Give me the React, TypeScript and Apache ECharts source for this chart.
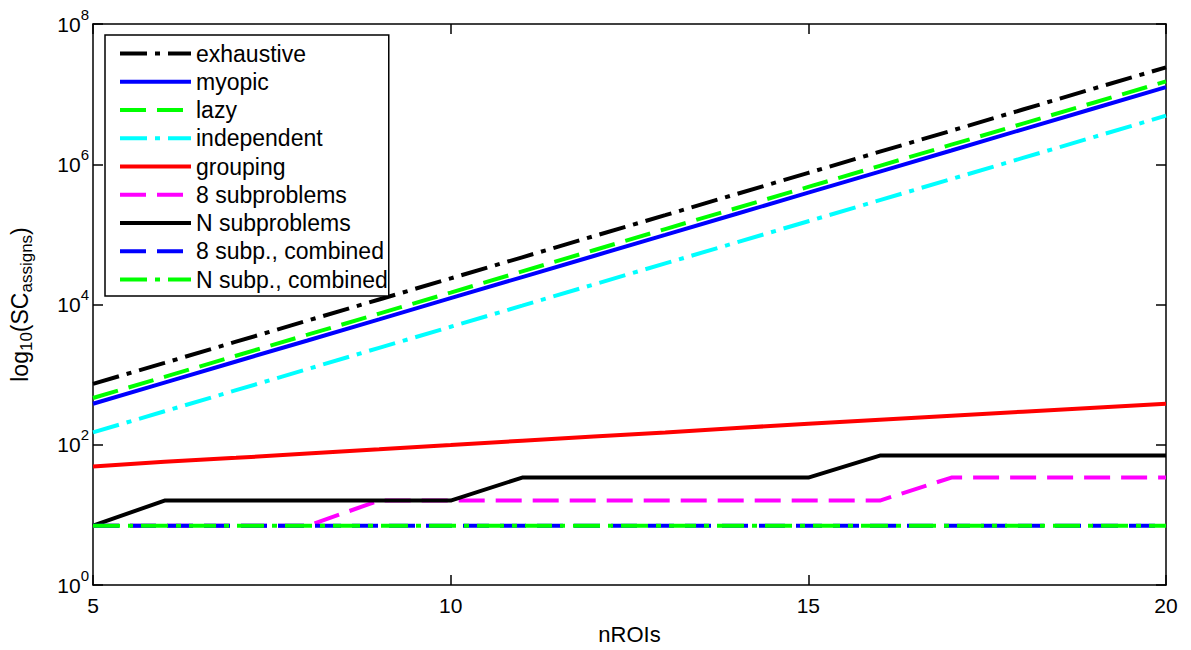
import { useEffect, useRef } from "react";
import * as echarts from "echarts";

// Number of regions of interest on the horizontal axis
const nROIs = [5, 6, 7, 8, 9, 10, 11, 12, 13, 14, 15, 16, 17, 18, 19, 20];

// Search-space size (number of assignments) per strategy
const exhaustive = [740, 1470, 2950, 5900, 11800, 23600, 47100, 94200, 188000, 377000, 754000, 1510000, 3010000, 6030000, 12100000, 24100000];
const myopic = [384, 768, 1540, 3070, 6140, 12300, 24600, 49200, 98300, 197000, 393000, 786000, 1570000, 3150000, 6290000, 12600000];
const lazy = [464, 928, 1860, 3710, 7420, 14800, 29700, 59400, 119000, 238000, 475000, 950000, 1900000, 3800000, 7600000, 15200000];
const independent = [150, 300, 600, 1200, 2410, 4810, 9630, 19300, 38500, 77000, 154000, 308000, 616000, 1230000, 2460000, 4930000];
const grouping = [49, 57, 65, 75, 86, 99, 114, 131, 150, 173, 200, 228, 260, 296, 338, 385];
const eightSubproblems = [7, 7, 7, 7, 16, 16, 16, 16, 16, 16, 16, 16, 34, 34, 34, 34];
const nSubproblems = [7, 16, 16, 16, 16, 16, 34, 34, 34, 34, 34, 70, 70, 70, 70, 70];
const eightSubCombined = [7, 7, 7, 7, 7, 7, 7, 7, 7, 7, 7, 7, 7, 7, 7, 7];
const nSubCombined = [7, 7, 7, 7, 7, 7, 7, 7, 7, 7, 7, 7, 7, 7, 7, 7];

// Labelled powers of ten on the vertical axis
const yTickValues = [1, 1e2, 1e4, 1e6, 1e8];

const FONT = '"Liberation Sans", Arial, Helvetica, sans-serif';
const DASHED = [26, 11];
const DASH_DOT = [27, 8, 5, 8];

const lines = [
  { name: "exhaustive", values: exhaustive, color: "#000000", dash: DASH_DOT },
  { name: "myopic", values: myopic, color: "#0000ff", dash: null },
  { name: "lazy", values: lazy, color: "#00ff00", dash: DASHED },
  { name: "independent", values: independent, color: "#00ffff", dash: DASH_DOT },
  { name: "grouping", values: grouping, color: "#ff0000", dash: null },
  { name: "8 subproblems", values: eightSubproblems, color: "#ff00ff", dash: DASHED },
  { name: "N subproblems", values: nSubproblems, color: "#000000", dash: null },
  { name: "8 subp., combined", values: eightSubCombined, color: "#0000ff", dash: DASHED },
  { name: "N subp., combined", values: nSubCombined, color: "#00ff00", dash: DASH_DOT },
];

export default function App() {
  const ref = useRef<HTMLDivElement>(null);

  useEffect(() => {
    const chart = echarts.init(ref.current!, null, { renderer: "svg" });

    const axisLine = { show: true, onZero: false, lineStyle: { color: "#000", width: 1.5 } };
    const axisTick = { show: true, inside: true, length: 10, lineStyle: { color: "#000", width: 1.5 } };

    chart.setOption({
      animation: false,
      backgroundColor: "#ffffff",
      textStyle: { fontFamily: FONT, color: "#000" },
      grid: { left: 93, top: 24, right: 25, bottom: 63, containLabel: false },
      legend: {
        orient: "vertical",
        left: 105,
        top: 35,
        padding: [7, 1, 5, 13],
        itemWidth: 71,
        itemHeight: 14,
        itemGap: 5.25,
        backgroundColor: "#ffffff",
        borderColor: "#000",
        borderWidth: 1.5,
        borderRadius: 0,
        selectedMode: false,
        textStyle: { fontSize: 23, color: "#000", fontFamily: FONT, lineHeight: 23 },
        itemStyle: { opacity: 0 },
        lineStyle: { width: "inherit" },
        data: lines.map((l) => l.name),
      },
      xAxis: [
        {
          type: "value",
          min: 5,
          max: 20,
          interval: 5,
          name: "nROIs",
          nameLocation: "middle",
          nameGap: 38,
          nameTextStyle: { fontSize: 22, color: "#000", fontFamily: FONT },
          axisLine,
          axisTick,
          axisLabel: { fontSize: 21, color: "#000", margin: 10, fontFamily: FONT },
          splitLine: { show: false },
        },
        {
          type: "value",
          min: 5,
          max: 20,
          interval: 5,
          position: "top",
          axisLine,
          axisTick,
          axisLabel: { show: false },
          splitLine: { show: false },
        },
      ],
      yAxis: [
        {
          type: "log",
          logBase: 10,
          min: 1,
          max: 1e8,
          position: "left",
          axisLine,
          axisTick: { ...axisTick, customValues: yTickValues },
          minorTick: { show: false },
          splitLine: { show: false },
          axisLabel: {
            customValues: yTickValues,
            margin: 4,
            formatter: (v: number) => `{b|10}{s|${Math.round(Math.log10(v))}}`,
            rich: {
              b: { fontSize: 21, color: "#000", fontFamily: FONT },
              s: { fontSize: 15, color: "#000", fontFamily: FONT, padding: [0, 0, 20, 0] },
            },
          },
          name: "log{s|10}(SC{s|assigns})",
          nameLocation: "middle",
          nameRotate: 90,
          nameGap: 58,
          nameTextStyle: {
            fontSize: 23,
            color: "#000",
            fontFamily: FONT,
            rich: {
              s: { fontSize: 17, color: "#000", fontFamily: FONT, padding: [14, 0, 0, 0] },
            },
          },
        },
        {
          type: "log",
          logBase: 10,
          min: 1,
          max: 1e8,
          position: "right",
          axisLine,
          axisTick: { ...axisTick, customValues: yTickValues },
          minorTick: { show: false },
          splitLine: { show: false },
          axisLabel: { show: false },
        },
      ],
      series: lines.map((l) => ({
        name: l.name,
        type: "line",
        xAxisIndex: 0,
        yAxisIndex: 0,
        data: nROIs.map((n, i) => [n, l.values[i]]),
        symbol: "none",
        showSymbol: false,
        lineStyle: { color: l.color, width: 4, type: l.dash ?? "solid" },
        itemStyle: { color: l.color },
        emphasis: { disabled: true },
      })),
    });

    return () => chart.dispose();
  }, []);

  return (
    <div
      ref={ref}
      style={{ position: "absolute", left: 0, top: 0, width: 1191, height: 650 }}
    />
  );
}
